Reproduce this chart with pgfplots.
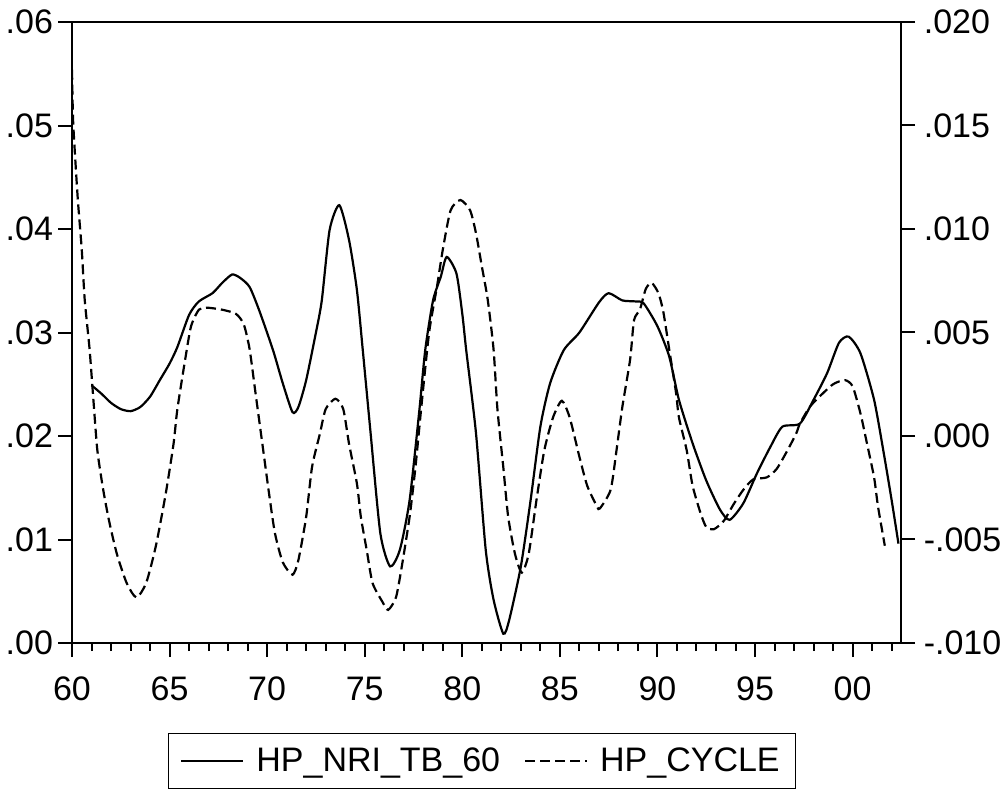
\documentclass[border=0pt]{standalone}
\usepackage{pgfplots}
\pgfplotsset{compat=1.18}
\usepackage{fontspec}
\setmainfont{Liberation Sans}
\begin{document}
\begin{tikzpicture}
\useasboundingbox (0,0) rectangle (502.5pt,396pt);
\pgfplotsset{
  common/.style={
    at={(36pt,74.5pt)}, anchor=south west, scale only axis,
    width=414.5pt, height=310.5pt,
    xmin=1960, xmax=2002.48,
    tick align=outside,
    major tick length=7pt, minor tick length=4pt,
    axis line style={line width=1pt},
    every tick/.style={line width=1pt, black},
    tick label style={font=\fontsize{17}{20}\selectfont},
    /pgf/number format/assume math mode=true,
    scaled y ticks=false,
  }
}
\begin{axis}[common,
  ymin=0, ymax=0.06,
  ytick={0,0.01,0.02,0.03,0.04,0.05,0.06},
  yticklabels={.00,.01,.02,.03,.04,.05,.06},
  xtick={1960,1965,1970,1975,1980,1985,1990,1995,2000},
  xticklabels={60,65,70,75,80,85,90,95,00},
  minor xtick={1961,1962,1963,1964,1966,1967,1968,1969,1971,1972,1973,1974,1976,1977,1978,1979,1981,1982,1983,1984,1986,1987,1988,1989,1991,1992,1993,1994,1996,1997,1998,1999,2001,2002},
  xtick pos=left, ytick pos=left,
  xticklabel style={yshift=-6.5pt},
  yticklabel style={xshift=1pt},
  legend style={at={(0.4946,-0.19)}, anchor=center, legend columns=2,
    draw=black, line width=0.75pt, font=\fontsize{17}{20}\selectfont,
    inner xsep=6pt, inner ysep=5pt,
    /tikz/every odd column/.append style={column sep=4pt},
    /tikz/every even column/.append style={column sep=10pt}},
  legend cell align=left,
  legend image code/.code={\draw[#1, line width=1pt] (0pt,0pt) -- (31pt,0pt);},
]
\addplot[black, line width=1.1pt, smooth, tension=0.4] coordinates {
(1961.0,0.0249) (1961.5,0.0241) (1962.0,0.0232) (1962.5,0.0226) (1963.0,0.0224)
(1963.5,0.0228) (1964.0,0.0238) (1964.5,0.0254) (1965.0,0.0270) (1965.4,0.0286)
(1966.0,0.0317) (1966.5,0.0330) (1967.2,0.0338) (1967.7,0.0348) (1968.2,0.0356)
(1968.6,0.0353) (1969.1,0.0344) (1969.6,0.0321) (1970.3,0.0283) (1970.8,0.0251)
(1971.3,0.0223) (1971.6,0.0228) (1972.0,0.0254) (1972.5,0.0300) (1972.8,0.0331)
(1973.2,0.0399) (1973.7,0.0423) (1974.2,0.0389) (1974.6,0.0341) (1974.9,0.0283)
(1975.3,0.0203) (1975.8,0.0106) (1976.3,0.0074) (1976.8,0.0090) (1977.3,0.0138)
(1977.8,0.0225) (1978.1,0.0283) (1978.5,0.0331) (1978.9,0.0354) (1979.2,0.0373)
(1979.7,0.0357) (1980.0,0.0318) (1980.2,0.0283) (1980.7,0.0203) (1981.2,0.0090)
(1981.6,0.0042) (1982.1,0.0009) (1982.4,0.0022) (1983.0,0.0074) (1983.5,0.0138)
(1984.0,0.0209) (1984.5,0.0251) (1985.2,0.0283) (1986.0,0.0300) (1987.0,0.0329)
(1987.5,0.0338) (1988.2,0.0331) (1988.9,0.0330) (1989.3,0.0328) (1990.0,0.0306)
(1990.6,0.0277) (1991.1,0.0235) (1991.8,0.0193) (1992.5,0.0157) (1993.2,0.0129)
(1993.7,0.0119) (1994.4,0.0135) (1995.1,0.0164) (1995.8,0.0190) (1996.4,0.0209)
(1997.3,0.0212) (1998.0,0.0235) (1998.7,0.0261) (1999.3,0.0290) (1999.8,0.0296)
(2000.4,0.0280) (2001.1,0.0235) (2001.6,0.0183) (2002.0,0.0138) (2002.35,0.0096)
};
\addlegendentry{HP\_NRI\_TB\_60}
\addlegendimage{black, dash pattern=on 5pt off 2.5pt}
\addlegendentry{HP\_CYCLE}
\end{axis}
\begin{axis}[common,
  ymin=-0.01, ymax=0.02,
  axis x line=none, axis y line*=right,
  ytick={-0.01,-0.005,0,0.005,0.01,0.015,0.02},
  yticklabels={-.010,-.005,.000,.005,.010,.015,.020},
  yticklabel style={anchor=west, inner xsep=0pt, xshift=4.2pt},
]
\addplot[black, line width=1.1pt, dash pattern=on 5pt off 2.5pt, smooth, tension=0.4] coordinates {
(1960.0,0.0177) (1960.05,0.0154) (1960.14,0.0138) (1960.3,0.0114) (1960.5,0.0090)
(1960.65,0.0066) (1960.9,0.0042) (1961.1,0.0017) (1961.3,-0.0007) (1961.6,-0.0026)
(1961.9,-0.0041) (1962.3,-0.0057) (1962.8,-0.0071) (1963.3,-0.0078) (1963.8,-0.0071)
(1964.3,-0.0053) (1964.8,-0.0028) (1965.2,-0.0004) (1965.4,0.0013) (1965.8,0.0037)
(1966.1,0.0053) (1966.5,0.0061) (1966.9,0.0062) (1967.7,0.0061) (1968.4,0.0059)
(1968.8,0.0054) (1969.1,0.0042) (1969.4,0.0021) (1969.8,-0.0007) (1970.1,-0.0028)
(1970.4,-0.0047) (1970.8,-0.0061) (1971.3,-0.0067) (1971.6,-0.0060) (1972.0,-0.0039)
(1972.3,-0.0015) (1972.7,0.0001) (1973.0,0.0013) (1973.5,0.0018) (1973.9,0.0013)
(1974.2,-0.0004) (1974.6,-0.0023) (1974.8,-0.0039) (1975.1,-0.0055) (1975.4,-0.0071)
(1975.9,-0.0080) (1976.2,-0.0084) (1976.6,-0.0078) (1976.9,-0.0063) (1977.3,-0.0039)
(1977.6,-0.0015) (1977.9,0.0014) (1978.3,0.0050) (1978.7,0.0072) (1979.0,0.0090)
(1979.4,0.0109) (1979.9,0.0114) (1980.4,0.0109) (1980.7,0.0098) (1981.0,0.0082)
(1981.3,0.0066) (1981.6,0.0042) (1981.8,0.0013) (1982.1,-0.0015) (1982.35,-0.0039)
(1982.7,-0.0057) (1983.05,-0.0066) (1983.4,-0.0057) (1983.8,-0.0031) (1984.2,-0.0007)
(1984.65,0.0009) (1985.1,0.0017) (1985.5,0.0009) (1986.0,-0.0010) (1986.4,-0.0024)
(1986.9,-0.0034) (1987.05,-0.0035) (1987.6,-0.0026) (1987.9,-0.0007) (1988.2,0.0014)
(1988.6,0.0037) (1988.8,0.0056) (1989.1,0.0061) (1989.4,0.0071) (1989.7,0.0074)
(1990.05,0.0069) (1990.3,0.0060) (1990.6,0.0042) (1990.95,0.0021) (1991.1,0.0009)
(1991.5,-0.0007) (1991.8,-0.0024) (1992.2,-0.0037) (1992.5,-0.0044) (1992.9,-0.0045)
(1993.4,-0.0041) (1993.9,-0.0033) (1994.4,-0.0026) (1994.9,-0.0021) (1995.6,-0.0020)
(1996.1,-0.0016) (1996.6,-0.0008) (1997.1,0.0001) (1997.3,0.0006) (1997.8,0.0014)
(1998.3,0.0019) (1999.0,0.0025) (1999.6,0.0027) (2000.0,0.0024) (2000.4,0.0011)
(2000.7,-0.0002) (2001.1,-0.0020) (2001.3,-0.0034) (2001.65,-0.0053)
};
\end{axis}
\end{tikzpicture}
\end{document}
